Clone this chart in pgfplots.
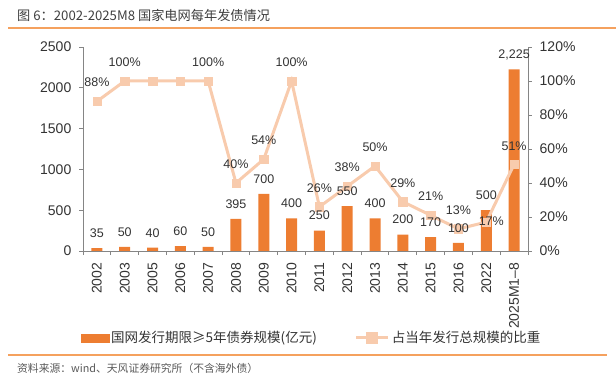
\documentclass[border=0pt]{standalone}
\usepackage{fontspec}
\setmainfont{Liberation Sans}
\newfontfamily\cjk{Noto Sans CJK SC}
\usepackage{pgfplots}
\usepackage{pgfplotstable}
\pgfplotsset{compat=1.18}
\definecolor{barorange}{HTML}{ED7D31}
\definecolor{linepeach}{HTML}{F8CBAD}
\definecolor{rulecol}{HTML}{F5A15E}
\definecolor{axgray}{HTML}{858585}
\definecolor{txtgray}{HTML}{333333}
\definecolor{titlegray}{HTML}{3F3F3F}
\definecolor{srcgray}{HTML}{595959}

\pgfplotstableread{
x val
0 35
1 50
2 40
3 60
4 50
5 395
6 700
7 400
8 250
9 550
10 400
11 200
12 170
13 100
14 500
15 2225
}\bardata

\pgfplotstableread{
x pct dx dy
0 88 0 19
1 100 0 19
2 100 0 19
3 100 0 19
4 100 0 19
5 40 0 19
6 54 0 19
7 100 0 19
8 26 0 19
9 38 0 19
10 50 0 19
11 29 0 19
12 21 0 19
13 13 0 19
14 17 5 1
15 51 0 18
}\linedata

\begin{document}
\begin{tikzpicture}
\useasboundingbox (0,0) rectangle (616bp,375bp);
\node[anchor=west, text=titlegray, font=\cjk\fontsize{13.2bp}{15bp}\selectfont, inner sep=0] at (17bp,360bp) {图 6：2002-2025M8 国家电网每年发债情况};
\draw[rulecol, line width=1.5bp] (8bp,347bp) -- (616bp,347bp);
\draw[rulecol, line width=1.5bp] (8bp,20bp) -- (607bp,20bp);
\node[anchor=west, text=srcgray, font=\cjk\fontsize{10.8bp}{13bp}\selectfont, inner sep=0] at (17bp,7bp) {资料来源：wind、天风证券研究所（不含海外债）};

\begin{axis}[
  at={(83bp,124bp)}, anchor=south west,
  scale only axis, width=445bp, height=204bp,
  xmin=-0.5, xmax=15.5, ymin=0, ymax=2500,
  axis x line*=bottom, axis y line*=left,
  axis line style={axgray, line width=0.9bp, -},
  /pgf/number format/assume math mode=true,
  ytick={0,500,1000,1500,2000,2500},
  yticklabels={0,500,1000,1500,2000,2500},
  xtick={0,...,15},
  xticklabels={2002,2003,2005,2006,2007,2008,2009,2010,2011,2012,2013,2014,2015,2016,2022,2025M1–8},
  minor xtick={-0.5,0.5,...,15.5},
  major x tick style={draw=none},
  tick align=outside,
  tick style={axgray, line width=0.9bp},
  major tick length=3.5bp, minor tick length=4bp,
  x tick label style={rotate=90, anchor=east, inner sep=0pt, xshift=0bp, font=\fontsize{14bp}{16bp}\selectfont, text=txtgray},
  xticklabel shift=8bp,
  y tick label style={font=\fontsize{14bp}{16bp}\selectfont, text=txtgray, inner sep=0pt},
  yticklabel shift=8bp,
  ybar, bar width=11bp,
]
\addplot[fill=barorange, draw=none] table[x=x,y=val]{\bardata};
\end{axis}

\begin{axis}[
  at={(83bp,124bp)}, anchor=south west,
  scale only axis, width=445bp, height=204bp,
  xmin=-0.5, xmax=15.5, ymin=0, ymax=120,
  axis x line=none, axis y line*=right,
  axis line style={axgray, line width=0.9bp, -},
  /pgf/number format/assume math mode=true,
  ytick={0,20,...,120},
  yticklabel={\pgfmathprintnumber{\tick}\%},
  tick align=outside,
  tick style={axgray, line width=0.9bp},
  major tick length=3.5bp,
  y tick label style={font=\fontsize{14bp}{16bp}\selectfont, text=txtgray, inner sep=0pt},
  yticklabel shift=8bp,
  legend style={at={(-0.012,-0.426)}, anchor=west, draw=none, fill=none,
    font=\cjk\fontsize{13.5bp}{15bp}\selectfont, text=txtgray,
    nodes={inner sep=2bp},
    /tikz/every even column/.append style={column sep=36bp}},
  legend columns=2,
]
\addlegendimage{legend image code/.code={\fill[barorange] (0bp,-4bp) rectangle (28bp,4bp);}}
\addlegendentry{国网发行期限≥5年债券规模(亿元)}
\addplot[linepeach, line width=3bp, mark=square*, mark size=4.2bp,
  mark options={fill=linepeach, draw=linepeach, line width=0.4bp},
  legend image code/.code={\draw[linepeach, line width=3bp] (0bp,0bp) -- (32bp,0bp); \fill[linepeach] (11.5bp,-4.5bp) rectangle (20.5bp,4.5bp);}]
  table[x=x,y=pct]{\linedata};
\addlegendentry{占当年发行总规模的比重}
% bar value labels (same bar values, placed on right-axis scale)
\addplot[forget plot, draw=none, mark=none,
  nodes near coords={\pgfmathprintnumber[1000 sep={,}]{\pgfplotspointmeta}},
  point meta=explicit,
  every node near coord/.append style={anchor=center, yshift=15bp, font=\fontsize{12.5bp}{14bp}\selectfont, text=txtgray, inner sep=0pt}]
  table[x=x, y expr=\thisrow{val}*120/2500, meta=val]{\bardata};
% line value labels (the 2005 and 2006 points carry no label in the original)
\addplot[forget plot, draw=none, mark=none,
  skip coords between index={2}{4},
  visualization depends on={\thisrow{dx}\as\mydx},
  visualization depends on={\thisrow{dy}\as\mydy},
  nodes near coords={\pgfmathprintnumber{\pgfplotspointmeta}\%},
  point meta=explicit,
  every node near coord/.append style={anchor=center, xshift=\mydx bp, yshift=\mydy bp, font=\fontsize{12.5bp}{14bp}\selectfont, text=txtgray, inner sep=0pt}]
  table[x=x, y=pct, meta=pct]{\linedata};
\end{axis}
\end{tikzpicture}
\end{document}
